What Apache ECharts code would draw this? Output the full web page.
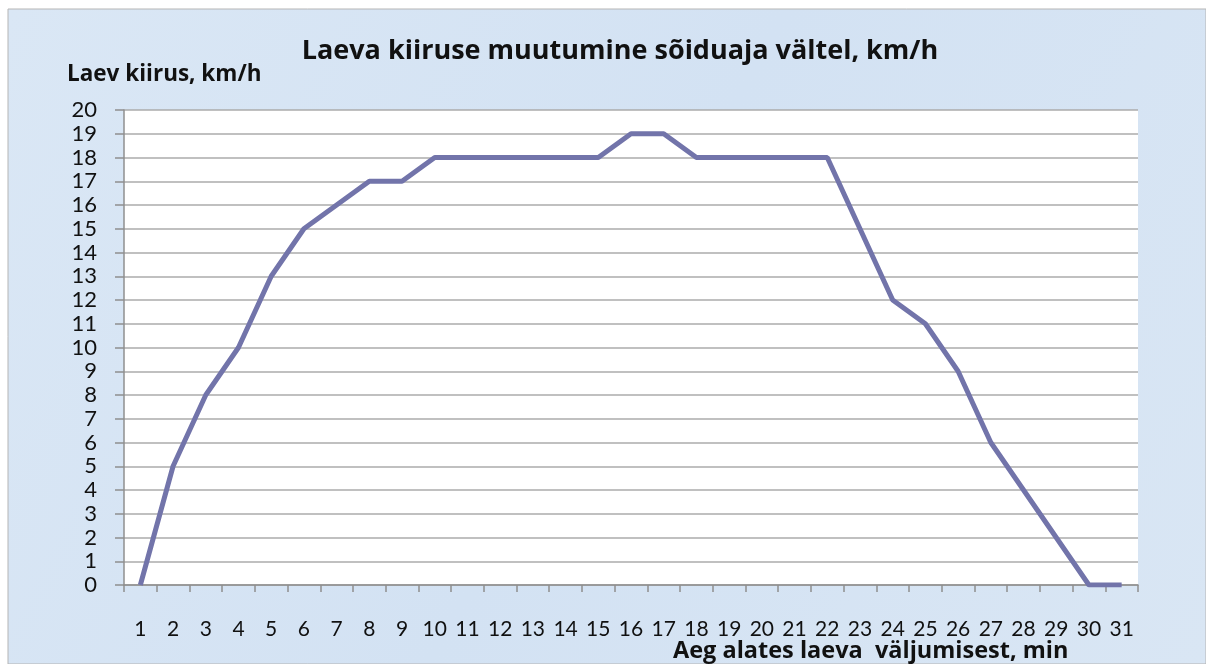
<!DOCTYPE html>
<html>
<head>
<meta charset="utf-8">
<title>Laeva kiirus</title>
<script src="https://cdn.jsdelivr.net/npm/echarts@6/dist/echarts.min.js"></script>
<style>
  html, body { margin: 0; padding: 0; background: #fff; }
  #chart { width: 1206px; height: 664px; }
</style>
</head>
<body>
<div id="chart"></div>
<script>
// minutes since departure
const minutes = ['1', '2', '3', '4', '5', '6', '7', '8', '9', '10', '11', '12', '13', '14', '15', '16',
  '17', '18', '19', '20', '21', '22', '23', '24', '25', '26', '27', '28', '29', '30', '31'];
// ship speed, km/h
const speed = [0, 5, 8, 10, 13, 15, 16, 17, 17, 18, 18, 18, 18, 18, 18, 19,
  19, 18, 18, 18, 18, 18, 15, 12, 11, 9, 6, 4, 2, 0, 0];

const titleText = 'Laeva kiiruse muutumine sõiduaja vältel, km/h';
const yName = 'Laev kiirus, km/h';
const xName = 'Aeg alates laeva  väljumisest, min';

const font = 'Lato, "Open Sans", sans-serif';
const boldFont = '"Open Sans", Lato, sans-serif';

const chart = echarts.init(document.getElementById('chart'));

chart.setOption({
  backgroundColor: '#fff',
  animation: false,
  title: {
    text: titleText,
    left: 615,
    top: 33,
    textAlign: 'center',
    textStyle: { fontFamily: boldFont, fontSize: 27, fontWeight: 'bold', color: '#111' }
  },
  graphic: [
    {
      type: 'rect',
      z: -10,
      silent: true,
      shape: { x: 8, y: 9, width: 1198, height: 655 },
      style: {
        fill: new echarts.graphic.LinearGradient(0, 0, 1, 1, [
          { offset: 0, color: '#dae7f5' },
          { offset: 0.5, color: '#d3e2f3' },
          { offset: 1, color: '#d9e6f4' }
        ]),
        stroke: '#b5b5b5',
        lineWidth: 1
      }
    },
    {
      type: 'text',
      left: 67,
      top: 63,
      style: { text: yName, fontFamily: boldFont, fontSize: 22.5, fontWeight: 'bold', fill: '#111' }
    },
    {
      type: 'text',
      left: 673,
      top: 639,
      style: { text: xName, fontFamily: boldFont, fontSize: 23.5, fontWeight: 'bold', fill: '#111' }
    }
  ],
  grid: {
    left: 124,
    right: 68,
    top: 110,
    bottom: 79,
    show: true,
    backgroundColor: '#fff',
    borderWidth: 0
  },
  xAxis: {
    type: 'category',
    data: minutes,
    boundaryGap: true,
    axisLine: { lineStyle: { color: '#8f8f8f', width: 1.5 } },
    axisTick: { show: true, interval: 0, length: 7, lineStyle: { color: '#8f8f8f', width: 1.5 } },
    axisLabel: { interval: 0, margin: 34, fontFamily: font, fontSize: 21, color: '#111' }
  },
  yAxis: {
    type: 'value',
    min: 0,
    max: 20,
    interval: 1,
    axisLine: { show: true, lineStyle: { color: '#8f8f8f', width: 1.5 } },
    axisTick: { show: true, length: 9, lineStyle: { color: '#8f8f8f', width: 1.5 } },
    axisLabel: { margin: 27, fontFamily: font, fontSize: 22, color: '#111' },
    splitLine: { lineStyle: { color: '#ababab', width: 1.5 } }
  },
  series: [
    {
      type: 'line',
      data: speed,
      showSymbol: false,
      symbol: 'none',
      lineStyle: { color: '#7274aa', width: 5 },
      itemStyle: { color: '#7274aa' }
    }
  ]
});
</script>
</body>
</html>
